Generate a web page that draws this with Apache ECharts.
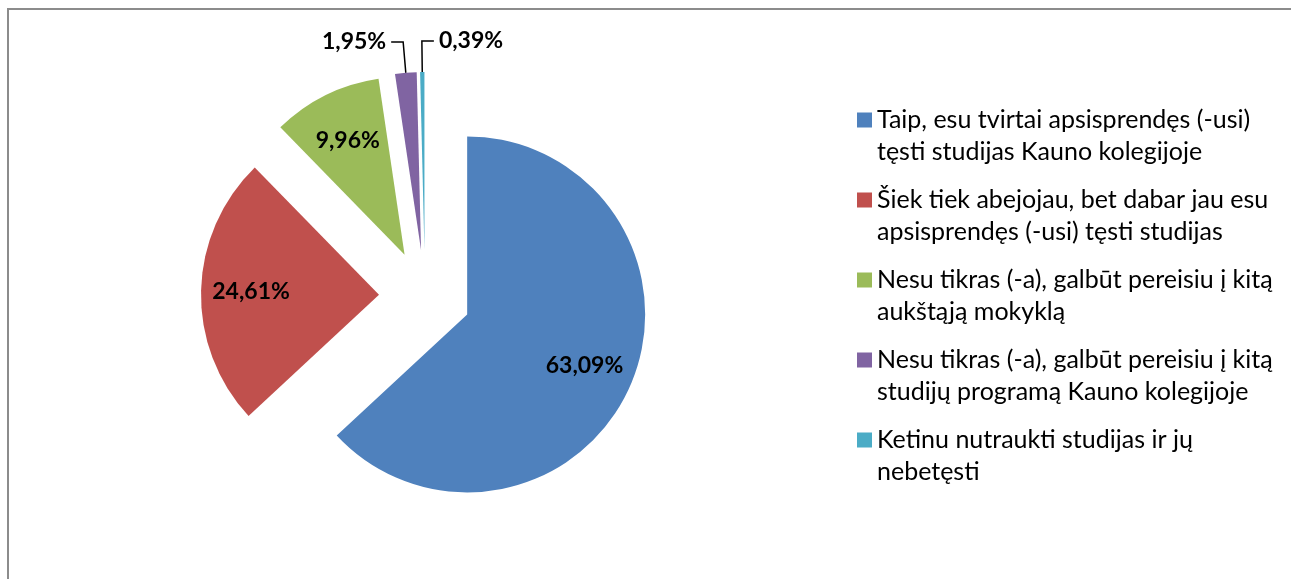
<!DOCTYPE html>
<html><head><meta charset="utf-8">
<script src="https://cdn.jsdelivr.net/npm/echarts@6/dist/echarts.min.js"></script>
<style>
html,body{margin:0;padding:0;background:#fff;overflow:hidden;width:1291px;height:579px}
#frame{position:absolute;left:7px;top:8px;width:2000px;height:2000px;border-left:2px solid #8c8c8c;border-top:2px solid #8c8c8c;box-sizing:border-box}
#chart{position:absolute;left:0;top:0;width:1291px;height:579px}
</style></head><body>
<div id="frame"></div><div id="chart"></div>
<script>
const categories = [
  'Taip, esu tvirtai apsisprendęs (-usi)\ntęsti studijas Kauno kolegijoje',
  'Šiek tiek abejojau, bet dabar jau esu\napsisprendęs (-usi) tęsti studijas',
  'Nesu tikras (-a), galbūt pereisiu į kitą\naukštąją mokyklą',
  'Nesu tikras (-a), galbūt pereisiu į kitą\nstudijų programą Kauno kolegijoje',
  'Ketinu nutraukti studijas ir jų\nnebetęsti'
];
const values = [63.09, 24.61, 9.96, 1.95, 0.39];
const colors = ['#4F81BD', '#C0504D', '#9BBB59', '#8064A2', '#4BACC6'];
const insideLabel = [true, true, true, false, false];
const flipRight = [false, false, false, false, true];

const fmt = p => p.value.toFixed(2).replace('.', ',') + '%';
const labelFont = {fontFamily: 'Lato', fontWeight: 'bold', fontSize: 23, color: '#000'};
const center = [425, 296];

const chart = echarts.init(document.getElementById('chart'), null, {renderer: 'canvas'});
chart.setOption({
  animation: false,
  legend: {
    orient: 'vertical', left: 857, top: 104, padding: 0,
    itemWidth: 15, itemHeight: 47, itemGap: 16,
    icon: 'path://M0,0H15V15H0Z M0,47H0.01V47.01H0Z',
    selectedMode: false,
    textStyle: {fontFamily: 'Lato', fontSize: 25, color: '#000', lineHeight: 32},
    data: categories
  },
  series: [
    {
      type: 'pie', center: center, radius: [0, 178], startAngle: 90, clockwise: true,
      selectedMode: 'multiple', selectedOffset: 46, avoidLabelOverlap: false, silent: true,
      emphasis: {disabled: true},
      itemStyle: {borderWidth: 0},
      data: values.map((v, i) => ({
        name: categories[i], value: v, selected: true,
        itemStyle: {color: colors[i]},
        label: {show: !insideLabel[i]},
        labelLine: {show: !insideLabel[i]}
      })),
      label: Object.assign({position: 'outside', formatter: fmt, distanceToLabelLine: 5}, labelFont),
      labelLine: {length: 31, length2: 12, lineStyle: {color: '#000', width: 1.5}},
      labelLayout: function (p) {
        if (!flipRight[p.dataIndex] || !p.labelLinePoints) return {};
        const pts = p.labelLinePoints;
        const p1 = pts[1], p2 = pts[2];
        const mx = 2 * p1[0] - p2[0];
        const shift = (mx - p2[0]) + 10 + p.labelRect.width;
        return {dx: shift, labelLinePoints: [pts[0], p1, [mx, p2[1]]]};
      }
    },
    {
      type: 'pie', center: center, radius: [72, 178], startAngle: 90, clockwise: true,
      selectedMode: 'multiple', selectedOffset: 46, silent: true,
      emphasis: {disabled: true},
      itemStyle: {color: 'rgba(0,0,0,0)', borderWidth: 0},
      data: values.map((v, i) => ({
        name: categories[i], value: v, selected: true,
        label: {show: insideLabel[i]}
      })),
      label: Object.assign({position: 'inside', formatter: fmt}, labelFont),
      labelLine: {show: false}
    }
  ]
});
</script>
</body></html>
